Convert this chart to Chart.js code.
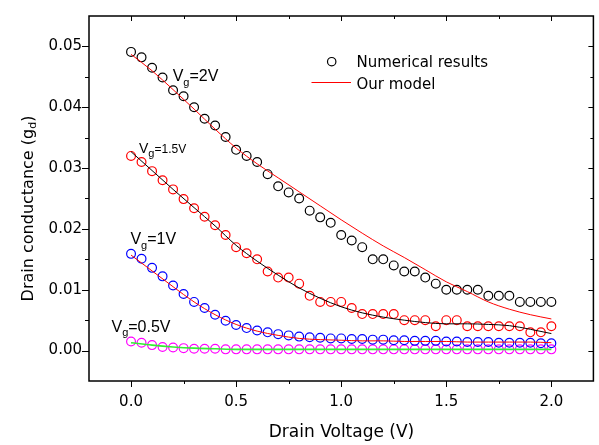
<!DOCTYPE html>
<html>
<head>
<meta charset="utf-8">
<script src="https://cdn.jsdelivr.net/npm/chart.js@4"></script>
<style>
body { margin: 0; background: #fff; }
</style>
</head>
<body>
<canvas id="grafico" width="599" height="445"></canvas>
<script>
// dados: tensão de dreno (V) e condutância
const xNum = [0, 0.05, 0.1, 0.15, 0.2, 0.25, 0.3, 0.35, 0.4, 0.45, 0.5, 0.55, 0.6, 0.65, 0.7, 0.75, 0.8, 0.85, 0.9, 0.95,
  1.0, 1.05, 1.1, 1.15, 1.2, 1.25, 1.3, 1.35, 1.4, 1.45, 1.5, 1.55, 1.6, 1.65, 1.7, 1.75, 1.8, 1.85, 1.9, 1.95, 2.0];

const numVg2 = [0.0491, 0.0482, 0.0465, 0.0449, 0.0428, 0.0418, 0.0400, 0.0381, 0.0370, 0.0351, 0.0330, 0.0320, 0.0310, 0.0290,
  0.0270, 0.0260, 0.0250, 0.0230, 0.0219, 0.0210, 0.0190, 0.0181, 0.0170, 0.0150, 0.0150, 0.0140, 0.0130, 0.0130, 0.0120,
  0.0110, 0.0100, 0.0100, 0.0100, 0.0100, 0.0090, 0.0090, 0.0090, 0.0080, 0.0080, 0.0080, 0.0080];

const numVg15 = [0.0320, 0.0310, 0.0295, 0.0280, 0.0265, 0.0249, 0.0234, 0.0220, 0.0206, 0.0190, 0.0170, 0.0160, 0.0150, 0.0130,
  0.0120, 0.0120, 0.0110, 0.0090, 0.0080, 0.0080, 0.0080, 0.0070, 0.0060, 0.0060, 0.0060, 0.0060, 0.0050, 0.0050, 0.0050,
  0.0040, 0.0050, 0.0050, 0.0040, 0.0040, 0.0040, 0.0040, 0.0040, 0.0040, 0.0030, 0.0030, 0.0040];

const numVg1 = [0.0159, 0.0151, 0.0136, 0.0122, 0.0107, 0.0093, 0.0080, 0.0070, 0.0059, 0.0049, 0.0042, 0.0037, 0.0033, 0.0030,
  0.0027, 0.0025, 0.0023, 0.0022, 0.0021, 0.0020, 0.0020, 0.0019, 0.0019, 0.0018, 0.0018, 0.0017, 0.0017, 0.0016, 0.0016,
  0.0016, 0.0015, 0.0015, 0.0014, 0.0014, 0.0014, 0.0013, 0.0013, 0.0013, 0.0013, 0.0012, 0.0012];

const numVg05 = [0.0015, 0.0013, 0.0009, 0.0006, 0.0005, 0.0004, 0.0003, 0.0003, 0.0003, 0.0002, 0.0002, 0.0002, 0.0002, 0.0002,
  0.0002, 0.0002, 0.0002, 0.0002, 0.0002, 0.0002, 0.0002, 0.0002, 0.0002, 0.0002, 0.0002, 0.0002, 0.0002, 0.0002, 0.0002,
  0.0002, 0.0002, 0.0002, 0.0002, 0.0002, 0.0002, 0.0002, 0.0002, 0.0002, 0.0002, 0.0002, 0.0002];

const xModel = [0, 0.1, 0.2, 0.3, 0.4, 0.5, 0.6, 0.7, 0.8, 0.9, 1.0, 1.1, 1.2, 1.3, 1.4, 1.5, 1.6, 1.7, 1.8, 1.9, 2.0];

const modelVg2 = [0.0487, 0.0460, 0.0429, 0.0397, 0.0364, 0.0333, 0.0307, 0.0284, 0.0261, 0.0238, 0.0215, 0.0193, 0.0172,
  0.0153, 0.0133, 0.0113, 0.0097, 0.0080, 0.0068, 0.0059, 0.0052];
const modelVg15 = [0.0327, 0.0296, 0.0265, 0.0235, 0.0205, 0.0173, 0.0147, 0.0124, 0.0103, 0.0086, 0.0072, 0.0062, 0.0055,
  0.0050, 0.0046, 0.0044, 0.0044, 0.0043, 0.0041, 0.0035, 0.0028];
const modelVg1 = [0.0157, 0.0131, 0.0105, 0.0080, 0.0059, 0.0043, 0.0032, 0.0025, 0.0020, 0.0018, 0.0017, 0.0016, 0.0016,
  0.0015, 0.0015, 0.0015, 0.0014, 0.0014, 0.0014, 0.0014, 0.0013];
const modelVg05 = [0.0013, 0.0009, 0.0006, 0.0004, 0.0003, 0.0002, 0.0002, 0.0002, 0.0002, 0.0002, 0.0002, 0.0002, 0.0002,
  0.0002, 0.0002, 0.0002, 0.0002, 0.0002, 0.0002, 0.0002, 0.0002];

const xTicks = [0, 0.5, 1.0, 1.5, 2.0];
const xMinor = [0.25, 0.75, 1.25, 1.75];
const yTicks = [0, 0.01, 0.02, 0.03, 0.04, 0.05];
const yMinor = [0.005, 0.015, 0.025, 0.035, 0.045];

// rótulos Vg (posição em unidades de dados)
const rotulos = [
  { v: 0.198, g: 0.0443, txt: "=2V", big: 16, sub: 11, small: 16 },
  { v: 0.038, g: 0.0325, txt: "=1.5V", big: 14, sub: 11, small: 12 },
  { v: -0.003, g: 0.0175, txt: "=1V", big: 16, sub: 11, small: 16 },
  { v: -0.093, g: 0.0031, txt: "=0.5V", big: 16, sub: 11, small: 16 }
];

const FONTE = "DejaVu Sans";
const ARIAL = "Liberation Sans";

const pontos = (xs, ys) => xs.map((v, i) => ({ x: v, y: ys[i] }));

function serieNum(ys, cor) {
  return {
    data: pontos(xNum, ys),
    showLine: false,
    pointStyle: "circle",
    pointRadius: 4.4,
    pointBorderWidth: 1.2,
    borderColor: cor,
    backgroundColor: "rgba(0,0,0,0)"
  };
}

function serieModelo(ys, cor, w) {
  return {
    data: pontos(xModel, ys),
    showLine: true,
    pointRadius: 0,
    borderColor: cor,
    borderWidth: w,
    cubicInterpolationMode: "monotone",
    fill: false
  };
}

// eixos: moldura e marcas
const pluginEixos = {
  id: "eixos",
  afterDraw(chart) {
    const { ctx, chartArea: a, scales: { x, y } } = chart;
    ctx.save();
    ctx.strokeStyle = "#000";
    ctx.lineWidth = 1;
    ctx.beginPath();
    const marcaX = (v, fora, dentro) => {
      const px = Math.round(x.getPixelForValue(v)) + 0.5;
      ctx.moveTo(px, a.bottom); ctx.lineTo(px, a.bottom + fora);
      ctx.moveTo(px, a.top); ctx.lineTo(px, a.top + dentro);
    };
    const marcaY = (v, fora, dentro) => {
      const py = Math.round(y.getPixelForValue(v)) + 0.5;
      ctx.moveTo(a.left, py); ctx.lineTo(a.left - fora, py);
      ctx.moveTo(a.right, py); ctx.lineTo(a.right - dentro, py);
    };
    xTicks.forEach(v => marcaX(v, 6, 5));
    xMinor.forEach(v => marcaX(v, 3, 3));
    yTicks.forEach(v => marcaY(v, 7, 5));
    yMinor.forEach(v => marcaY(v, 4, 3));
    ctx.stroke();
    ctx.lineWidth = 1.5;
    ctx.strokeRect(a.left, a.top, a.right - a.left, a.bottom - a.top);
    ctx.restore();
  }
};

// textos: títulos, legenda, rótulos Vg
const pluginTextos = {
  id: "textos",
  afterDraw(chart) {
    const { ctx, scales: { x, y } } = chart;
    ctx.save();
    ctx.fillStyle = "#000";
    ctx.textBaseline = "alphabetic";

    // título x
    ctx.font = "17px " + FONTE;
    ctx.textAlign = "center";
    ctx.fillText("Drain Voltage (V)", 341.5, 436.5);

    // título y com subscrito
    ctx.textAlign = "left";
    const p1 = "Drain conductance (g", p3 = ")";
    ctx.font = "16px " + FONTE;
    const w1 = ctx.measureText(p1).width, w3 = ctx.measureText(p3).width;
    ctx.font = "11px " + FONTE;
    const w2 = ctx.measureText("d").width;
    const total = w1 + w2 + w3;
    ctx.translate(32.7, 208.5);
    ctx.rotate(-Math.PI / 2);
    let cx = -total / 2;
    ctx.font = "16px " + FONTE;
    ctx.fillText(p1, cx, 0); cx += w1;
    ctx.font = "11px " + FONTE;
    ctx.fillText("d", cx, 3.5); cx += w2;
    ctx.font = "16px " + FONTE;
    ctx.fillText(p3, cx, 0);
    ctx.setTransform(1, 0, 0, 1, 0, 0);

    // legenda
    ctx.strokeStyle = "#000";
    ctx.lineWidth = 1.2;
    ctx.beginPath();
    ctx.arc(331.7, 61.7, 4.2, 0, Math.PI * 2);
    ctx.stroke();
    ctx.strokeStyle = "#ff0000";
    ctx.lineWidth = 1;
    ctx.beginPath();
    ctx.moveTo(311.5, 82.5); ctx.lineTo(351, 82.5);
    ctx.stroke();
    ctx.font = "15px " + FONTE;
    ctx.fillText("Numerical results", 356.5, 66.7);
    ctx.fillText("Our model", 356.5, 88.8);

    // rótulos Vg
    rotulos.forEach(r => {
      let px = x.getPixelForValue(r.v);
      const py = y.getPixelForValue(r.g);
      ctx.font = r.big + "px " + ARIAL;
      ctx.fillText("V", px, py);
      px += ctx.measureText("V").width;
      ctx.font = r.sub + "px " + ARIAL;
      ctx.fillText("g", px, py + 4.5);
      px += ctx.measureText("g").width;
      ctx.font = r.small + "px " + ARIAL;
      ctx.fillText(r.txt, px, py);
    });
    ctx.restore();
  }
};

const ctx = document.getElementById("grafico").getContext("2d");

new Chart(ctx, {
  type: "scatter",
  data: {
    datasets: [
      serieModelo(modelVg2, "#ff0000", 1),
      serieModelo(modelVg15, "#000000", 1),
      serieModelo(modelVg1, "#ff0000", 1),
      serieModelo(modelVg05, "#33ee33", 1.6),
      serieNum(numVg2, "#000000"),
      serieNum(numVg15, "#ff0000"),
      serieNum(numVg1, "#0000ff"),
      serieNum(numVg05, "#ff00ff")
    ]
  },
  options: {
    responsive: false,
    animation: false,
    layout: { padding: { left: 0, right: 3, top: 5, bottom: 0 } },
    plugins: {
      legend: { display: false },
      tooltip: { enabled: false }
    },
    scales: {
      x: {
        type: "linear",
        min: -0.2,
        max: 2.2,
        grid: { display: false, drawTicks: false },
        border: { display: false },
        ticks: {
          color: "#000",
          font: { family: FONTE, size: 15 },
          padding: 12,
          maxRotation: 0,
          callback: v => v.toFixed(1)
        },
        afterBuildTicks: s => { s.ticks = xTicks.map(v => ({ value: v })); },
        afterFit: s => { s.height = 64; }
      },
      y: {
        type: "linear",
        min: -0.005,
        max: 0.055,
        grid: { display: false, drawTicks: false },
        border: { display: false },
        ticks: {
          color: "#000",
          font: { family: FONTE, size: 15 },
          padding: 7,
          callback: v => v.toFixed(2)
        },
        afterBuildTicks: s => { s.ticks = yTicks.map(v => ({ value: v })); },
        afterFit: s => { s.width = 89; }
      }
    }
  },
  plugins: [pluginEixos, pluginTextos]
});
</script>
</body>
</html>
